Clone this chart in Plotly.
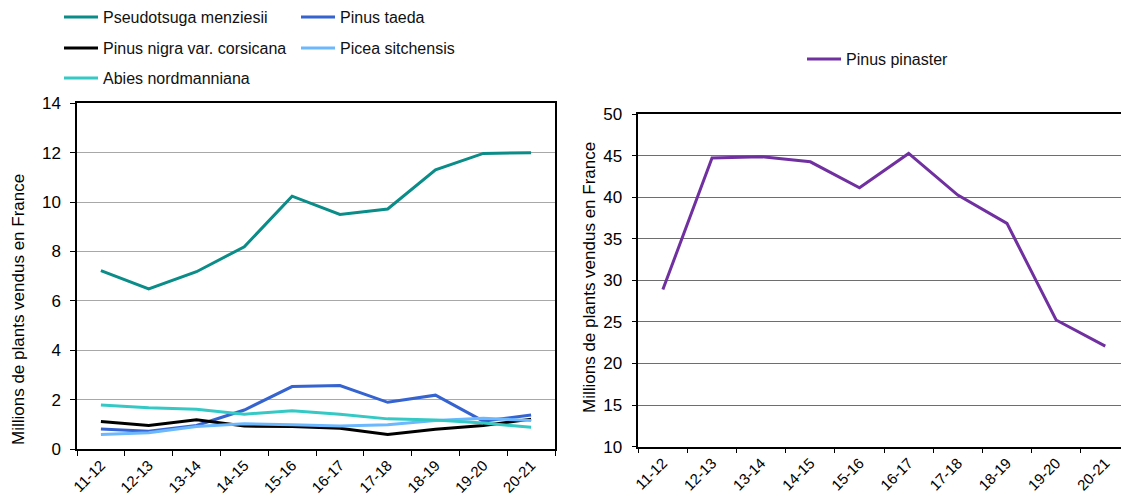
import plotly.graph_objects as go

W, H = 1121, 497

categories = ["11-12", "12-13", "13-14", "14-15", "15-16", "16-17", "17-18", "18-19", "19-20", "20-21"]

pseudotsuga_menziesii = [7.22, 6.48, 7.18, 8.19, 10.24, 9.50, 9.72, 11.31, 11.97, 12.00]
pinus_taeda = [0.81, 0.72, 0.95, 1.58, 2.53, 2.57, 1.89, 2.18, 1.13, 1.38]
pinus_nigra_corsicana = [1.11, 0.95, 1.18, 0.93, 0.91, 0.84, 0.59, 0.80, 0.95, 1.21]
picea_sitchensis = [0.59, 0.66, 0.91, 1.02, 0.98, 0.93, 0.98, 1.15, 1.25, 1.15]
abies_nordmanniana = [1.78, 1.67, 1.61, 1.41, 1.55, 1.41, 1.22, 1.17, 1.05, 0.88]
pinus_pinaster = [28.9, 44.7, 44.86, 44.25, 41.13, 45.26, 40.25, 36.85, 25.23, 22.1]

left_ticks = [0, 2, 4, 6, 8, 10, 12, 14]
right_ticks = [10, 15, 20, 25, 30, 35, 40, 45, 50]
y_title = "Millions de plants vendus en France"

FONT = "Liberation Sans, Arial, sans-serif"

def px_x(p):
    return p / W

def px_y(p):
    return 1 - p / H

left_series = [
    ("Pseudotsuga menziesii", pseudotsuga_menziesii, "#0A8C88", "legend"),
    ("Pinus taeda", pinus_taeda, "#3563CF", "legend2"),
    ("Pinus nigra var. corsicana", pinus_nigra_corsicana, "#000000", "legend3"),
    ("Picea sitchensis", picea_sitchensis, "#6CB8FF", "legend4"),
    ("Abies nordmanniana", abies_nordmanniana, "#35C9C6", "legend5"),
]

fig = go.Figure()
for name, vals, col, lg in left_series:
    fig.add_trace(go.Scatter(
        x=categories, y=vals, name=name, mode="lines",
        line=dict(color=col, width=3), xaxis="x", yaxis="y", legend=lg,
    ))

fig.add_trace(go.Scatter(
    x=categories, y=pinus_pinaster, name="Pinus pinaster", mode="lines",
    line=dict(color="#7030A0", width=3), xaxis="x2", yaxis="y2", legend="legend6",
))

common_x = dict(
    type="category", tickson="boundaries", ticks="outside", ticklen=5,
    tickcolor="#000000", showline=True, linecolor="#000000", linewidth=1.5,
    showgrid=False, tickangle=-45, tickfont=dict(family=FONT, size=15, color="#000000"),
    automargin=False, mirror=True, fixedrange=True,
)
common_y = dict(
    ticks="outside", ticklen=5, tickcolor="#000000", showline=True,
    linecolor="#000000", linewidth=1.5, showgrid=True, gridwidth=1,
    tickfont=dict(family=FONT, size=17, color="#000000"), automargin=False,
    zeroline=False, fixedrange=True, ticklabelstandoff=6,
)

legend_common = dict(
    font=dict(family=FONT, size=16, color="#111111"),
    bgcolor="rgba(0,0,0,0)", borderwidth=0, xanchor="left", yanchor="middle",
    itemwidth=34, orientation="v",
)

fig.update_layout(
    width=W, height=H,
    margin=dict(l=0, r=0, t=0, b=0, autoexpand=False),
    paper_bgcolor="#FFFFFF", plot_bgcolor="#FFFFFF",
    font=dict(family=FONT, color="#000000"),
    xaxis=dict(common_x, domain=[px_x(77), px_x(555)], anchor="y",
               range=[-0.5, 9.5]),
    yaxis=dict(common_y, domain=[px_y(449), px_y(103.3)], anchor="x",
               range=[0, 14], tickvals=left_ticks, gridcolor="#A8A8A8",
               mirror=True),
    xaxis2=dict(common_x, domain=[px_x(638.3), 1.0], anchor="y2",
                range=[-0.5, 9.32]),
    yaxis2=dict(common_y, domain=[px_y(446.7), px_y(114)], anchor="x2",
                range=[10, 50], tickvals=right_ticks, gridcolor="#6E6E6E",
                mirror=False),
    legend=dict(legend_common, x=px_x(59), y=px_y(17)),
    legend2=dict(legend_common, x=px_x(296), y=px_y(17)),
    legend3=dict(legend_common, x=px_x(59), y=px_y(48)),
    legend4=dict(legend_common, x=px_x(296), y=px_y(48)),
    legend5=dict(legend_common, x=px_x(59), y=px_y(78)),
    legend6=dict(legend_common, x=px_x(802), y=px_y(59)),
    showlegend=True,
    annotations=[
        dict(text=y_title, x=px_x(18), y=px_y(310), xref="paper", yref="paper",
             textangle=-90, showarrow=False, xanchor="center", yanchor="middle",
             font=dict(family=FONT, size=17, color="#000000")),
        dict(text=y_title, x=px_x(589), y=px_y(278), xref="paper", yref="paper",
             textangle=-90, showarrow=False, xanchor="center", yanchor="middle",
             font=dict(family=FONT, size=17, color="#000000")),
    ],
)

fig.write_html(
    "out.html",
    config={"displayModeBar": False},
    post_script="document.body.style.margin='0';document.body.style.padding='0';document.body.style.overflow='hidden';",
)
